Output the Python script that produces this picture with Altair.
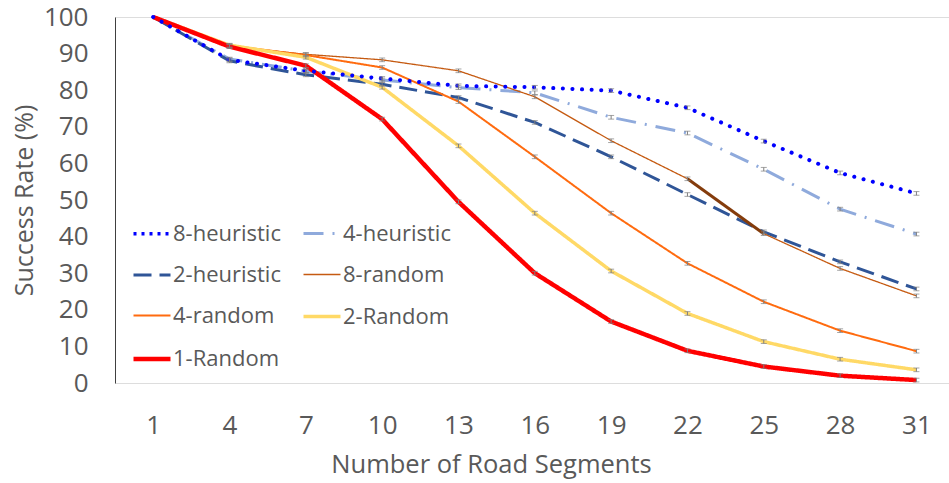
import altair as alt
import pandas as pd

X = [1, 4, 7, 10, 13, 16, 19, 22, 25, 28, 31]
SERIES = ["8-heuristic", "4-heuristic", "2-heuristic", "8-random",
          "4-random", "2-Random", "1-Random"]
H8 = [100, 88.3, 85.3, 83.2, 81.2, 80.8, 79.9, 75.2, 66.1, 57.4, 51.8]
H4 = [100, 88.5, 85.2, 82.8, 80.7, 79.3, 72.6, 68.3, 58.4, 47.5, 40.7]
H2 = [100, 88.0, 84.2, 81.6, 78.0, 71.2, 61.8, 51.5, 41.3, 33.1, 25.7]
R8 = [100, 92.0, 89.8, 88.3, 85.3, 78.2, 66.2, 55.8, 40.8, 31.3, 23.8]
R4 = [100, 92.2, 89.6, 86.2, 76.9, 61.8, 46.4, 32.7, 22.2, 14.3, 8.7]
R2 = [100, 92.3, 89.0, 80.8, 64.8, 46.4, 30.6, 19.0, 11.3, 6.5, 3.6]
R1 = [100, 91.9, 86.7, 72.1, 49.5, 30.0, 16.8, 8.8, 4.5, 2.0, 0.8]
ERR = [0.0, 0.5, 0.5, 0.5, 0.5, 0.5, 0.5, 0.5, 0.5, 0.5, 0.5]
VALUES = [H8, H4, H2, R8, R4, R2, R1]
Y_TICKS = [0, 10, 20, 30, 40, 50, 60, 70, 80, 90, 100]

COLORS = ["#0000FF", "#8FAADC", "#2F5597", "#C55A11", "#FF6B0F", "#FFD966", "#FF0000"]
WIDTHS = [3.5, 3, 3, 1.3, 2, 3.5, 4.5]
DASHES = [[3, 5], [20, 9, 2, 9], [18, 8], [1, 0], [1, 0], [1, 0], [1, 0]]

rows = []
for s, vals in zip(SERIES, VALUES):
    for x, v, e in zip(X, vals, ERR):
        rows.append({"series": s, "x": x, "y": v, "lo": v - e, "hi": v + e})
df = pd.DataFrame(rows)

FONT = "Open Sans"
GREY = "#595959"

xs = alt.X("x:Q", scale=alt.Scale(domain=[-0.5, 32.28], nice=False, zero=False),
           axis=alt.Axis(values=X, tickCount=20, title="Number of Road Segments", grid=False,
                         domain=False, ticks=False, tickSize=0, labelPadding=29,
                         labelFontSize=26, labelColor=GREY, labelFont=FONT,
                         labelOverlap=False,
                         titleFontSize=25.5, titleColor=GREY, titleFont=FONT,
                         titleFontWeight="normal", titleX=376, titleY=89,
                         titleAlign="center", titleBaseline="alphabetic"))
ys = alt.Y("y:Q", scale=alt.Scale(domain=[0, 100], nice=False),
           axis=alt.Axis(values=Y_TICKS, tickCount=20, title="Success Rate (%)",
                         grid=False, domain=True, domainColor="#404040", domainWidth=1,
                         ticks=False, tickSize=0, labelPadding=27,
                         labelFontSize=26, labelColor=GREY, labelFont=FONT,
                         labelBaseline="middle", labelOverlap=False,
                         titleFontSize=25, titleColor=GREY, titleFont=FONT,
                         titleFontWeight="normal", titleX=-91, titleY=183,
                         titleAngle=270, titleAlign="center", titleBaseline="middle"))

base = alt.Chart(df)

main = base.transform_filter(alt.datum.series != "8-heuristic").mark_line().encode(
    x=xs, y=ys,
    color=alt.Color("series:N", scale=alt.Scale(domain=SERIES, range=COLORS),
                    sort=SERIES,
                    legend=alt.Legend(title=None, orient="none", legendX=16, legendY=196,
                                      direction="horizontal",
                                      columns=2, columnPadding=15, rowPadding=10,
                                      symbolType="stroke", symbolSize=1369,
                                      labelFontSize=22, labelColor=GREY, labelFont=FONT,
                                      labelOffset=0, padding=0)),
    strokeDash=alt.StrokeDash("series:N", scale=alt.Scale(domain=SERIES, range=DASHES),
                              sort=SERIES),
    strokeWidth=alt.StrokeWidth("series:N",
                                scale=alt.Scale(type="ordinal", domain=SERIES, range=WIDTHS),
                                sort=SERIES),
    order=alt.Order("x:Q"),
)

thick = base.transform_filter(
    (alt.datum.series == "8-random") & (alt.datum.x >= 22) & (alt.datum.x <= 25)
).mark_line(color="#843C0C", strokeWidth=3).encode(x="x:Q", y="y:Q")

dots = base.transform_filter(alt.datum.series == "8-heuristic").mark_line(
    color="#0000FF", strokeWidth=4, strokeDash=[0.1, 9.5], strokeCap="round"
).encode(x="x:Q", y="y:Q", order=alt.Order("x:Q"))

eb = base.transform_filter(alt.datum.x > 1)
err_rule = eb.mark_rule(color="#7F7F7F", strokeWidth=1).encode(x="x:Q", y="lo:Q", y2="hi:Q")
err_lo = eb.mark_tick(color="#7F7F7F", orient="horizontal", size=6, thickness=1).encode(
    x="x:Q", y="lo:Q")
err_hi = eb.mark_tick(color="#7F7F7F", orient="horizontal", size=6, thickness=1).encode(
    x="x:Q", y="hi:Q")

chart = alt.layer(main, thick, dots, err_rule, err_lo, err_hi).properties(
    width=834, height=366,
    autosize=alt.AutoSizeParams(type="none"),
    padding={"left": 115, "top": 17, "right": 0, "bottom": 100},
).configure_view(stroke="#808080", strokeWidth=1.5).configure_axis(
    labelOverlap=False
).configure(background="white")

chart.save("out.html", embed_options={"renderer": "svg", "actions": False})
